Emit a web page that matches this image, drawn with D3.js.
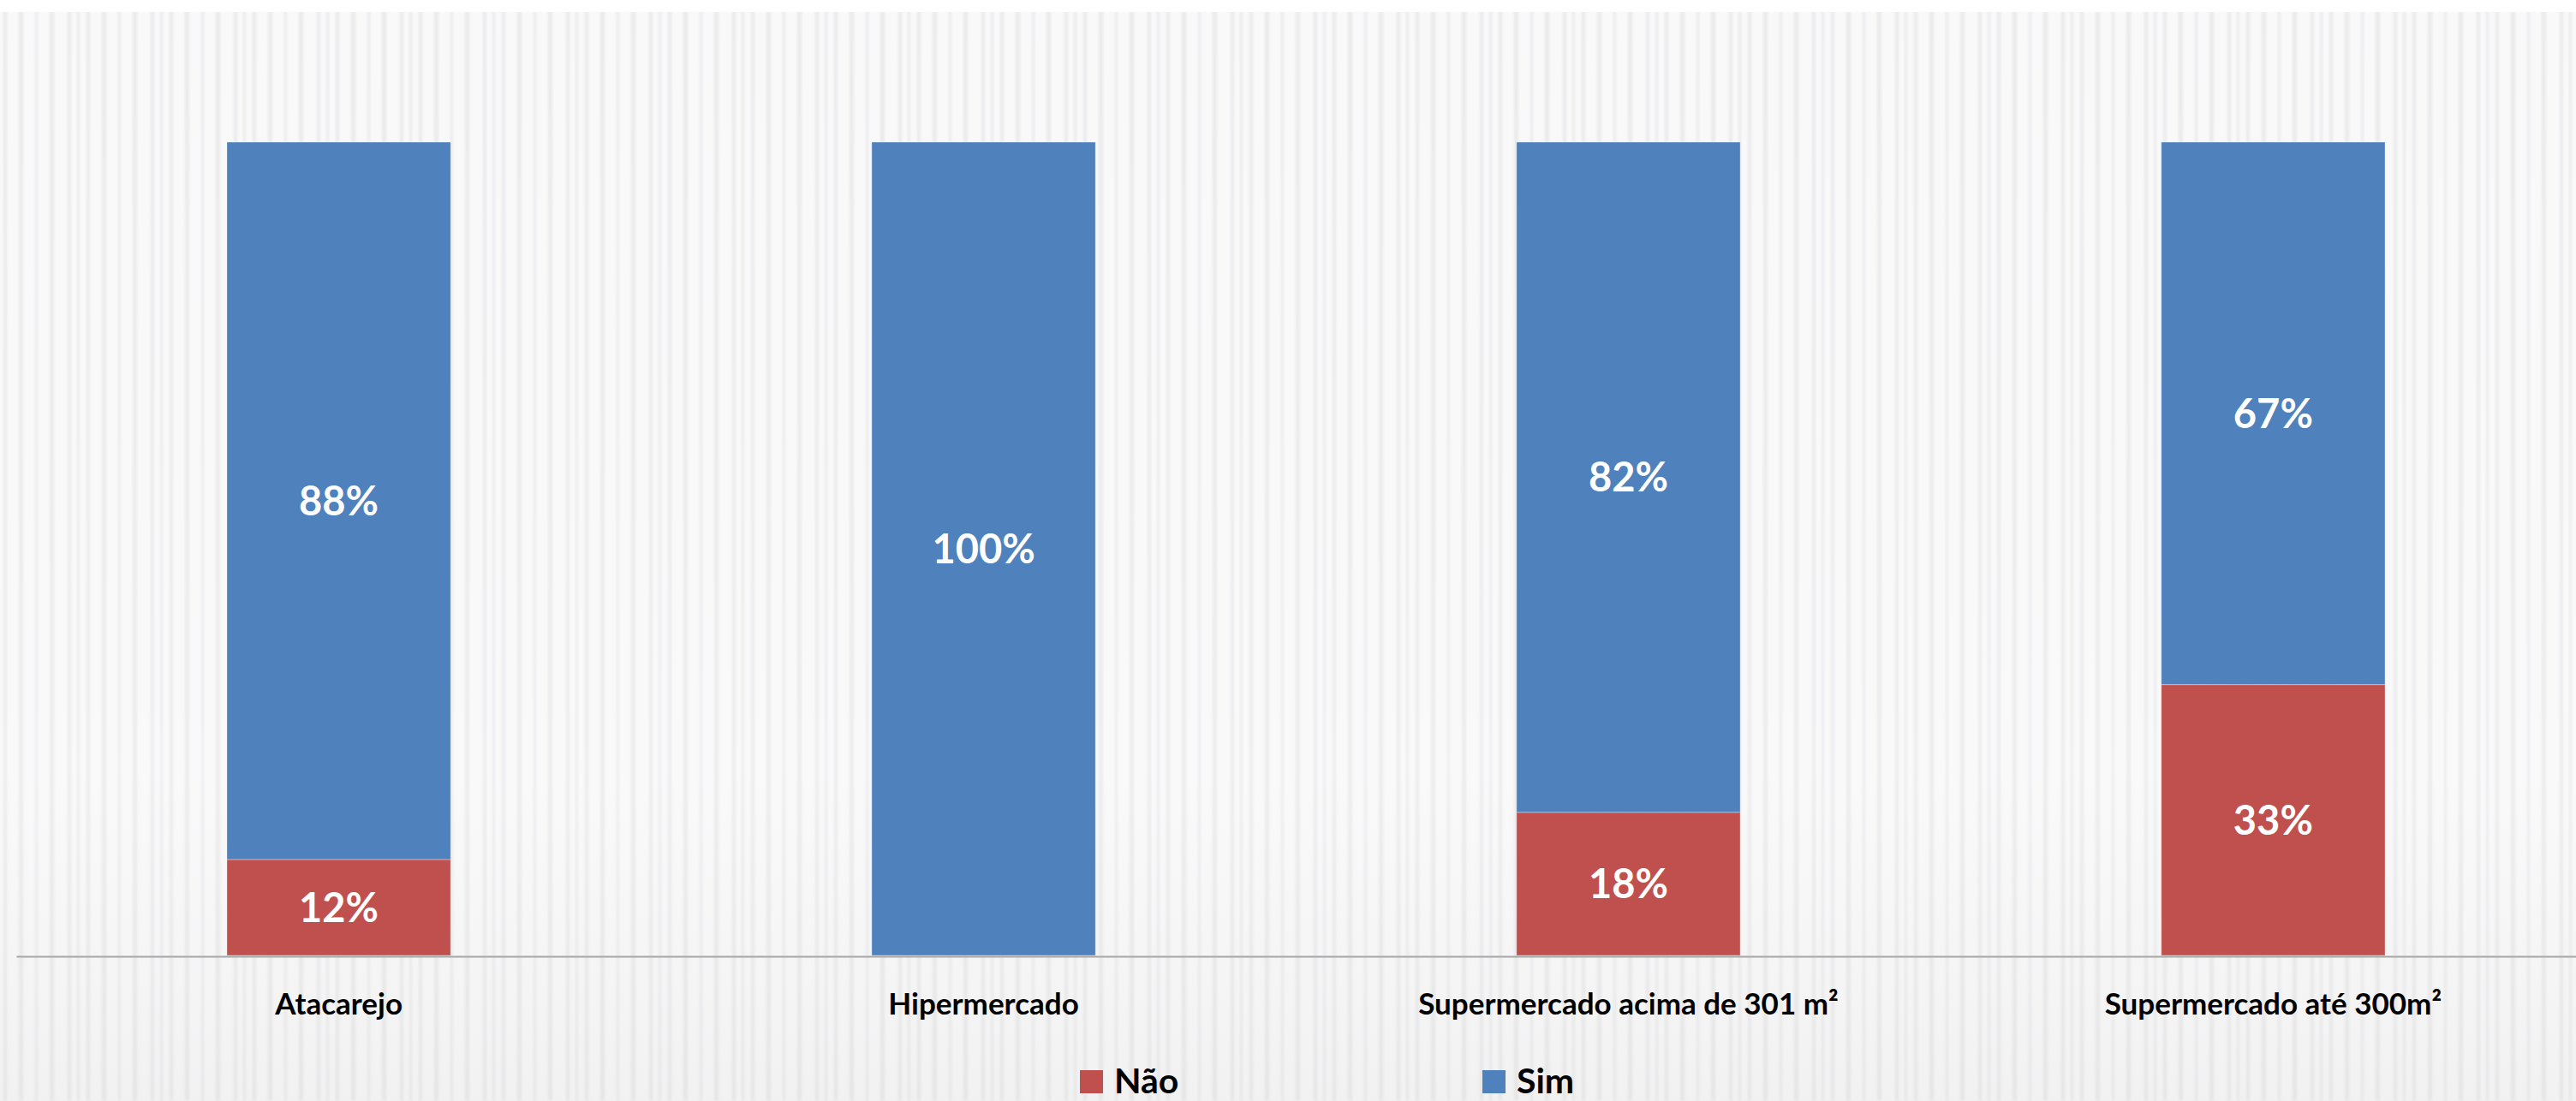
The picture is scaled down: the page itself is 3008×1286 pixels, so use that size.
<!DOCTYPE html>
<html>
<head>
<meta charset="utf-8">
<script src="https://cdn.jsdelivr.net/npm/d3@7"></script>
<style>
  body { margin: 0; background: #fff; }
  svg { display: block; font-family: Lato, "Open Sans", sans-serif; }
</style>
</head>
<body>
<svg id="chart"></svg>
<script>
// categories and shares
var categories = ["Atacarejo", "Hipermercado", "Supermercado acima de 301 m²", "Supermercado até 300m²"];
var naoValues = [0.118, 0, 0.176, 0.333];
var simValues = [0.882, 1, 0.824, 0.667];
var seriesNames = ["Não", "Sim"];
var seriesColors = ["#C0504D", "#4F81BD"];

var width = 3008, height = 1286;
var margin = { top: 166, bottom: 170, left: 19, right: -23 };

var svg = d3.select("#chart")
    .attr("width", width)
    .attr("height", height);

// striped background
var defs = svg.append("defs");
var blur = defs.append("filter").attr("id", "soft")
    .attr("x", "-50%").attr("width", "200%");
blur.append("feGaussianBlur").attr("stdDeviation", 1.8);

var pat = defs.append("pattern")
    .attr("id", "stripes")
    .attr("patternUnits", "userSpaceOnUse")
    .attr("width", 97).attr("height", 1286);
pat.append("rect").attr("width", 97).attr("height", 1286).attr("fill", "#f8f8f9");
var stripeX = [4, 22, 41, 58, 79, 90];
var stripeW = [4, 5, 3, 5, 4, 3];
pat.selectAll("rect.s")
    .data(stripeX)
    .join("rect")
    .attr("class", "s")
    .attr("x", d => d)
    .attr("width", (d, i) => stripeW[i])
    .attr("height", 1286)
    .attr("fill", "#e8e8ea")
    .attr("filter", "url(#soft)");

svg.append("rect")
    .attr("y", 14)
    .attr("width", width)
    .attr("height", height - 14)
    .attr("fill", "url(#stripes)");

var shade = defs.append("linearGradient").attr("id", "shade")
    .attr("x1", 0).attr("x2", 0).attr("y1", 0).attr("y2", 1);
shade.append("stop").attr("offset", "0%").attr("stop-color", "#fff").attr("stop-opacity", 0.1);
shade.append("stop").attr("offset", "70%").attr("stop-color", "#fff").attr("stop-opacity", 0.2);
shade.append("stop").attr("offset", "100%").attr("stop-color", "#ddd").attr("stop-opacity", 0.25);
svg.append("rect")
    .attr("y", 14)
    .attr("width", width)
    .attr("height", height - 14)
    .attr("fill", "url(#shade)");

var x = d3.scaleBand()
    .domain(categories)
    .range([margin.left, width - margin.right])
    .paddingInner(0.653)
    .paddingOuter(0.3267);

var y = d3.scaleLinear()
    .domain([0, 1])
    .range([height - margin.bottom, margin.top]);

var data = categories.map((c, i) => ({ category: c, "Não": naoValues[i], "Sim": simValues[i] }));
var stacked = d3.stack().keys(seriesNames)(data);

var fmt = d3.format(".0%");

var groups = svg.append("g")
    .selectAll("g")
    .data(stacked)
    .join("g")
    .attr("fill", (d, i) => seriesColors[i]);

groups.selectAll("rect")
    .data(d => d.filter(p => p[1] - p[0] > 0))
    .join("rect")
    .attr("x", d => x(d.data.category))
    .attr("y", d => y(d[1]))
    .attr("height", d => y(d[0]) - y(d[1]))
    .attr("width", x.bandwidth())
    .attr("stroke", "#ffffff")
    .attr("stroke-opacity", 0.35)
    .attr("stroke-width", 1);

groups.selectAll("text")
    .data(d => d.filter(p => p[1] - p[0] > 0))
    .join("text")
    .attr("x", d => x(d.data.category) + x.bandwidth() / 2)
    .attr("y", d => (y(d[0]) + y(d[1])) / 2)
    .attr("dy", "0.36em")
    .attr("text-anchor", "middle")
    .attr("fill", "#fff")
    .style("font-weight", "bold")
    .style("font-size", "47px")
    .text(d => fmt(d[1] - d[0]));

// x axis
var xAxis = svg.append("g")
    .attr("transform", `translate(0,${height - margin.bottom + 1})`)
    .call(d3.axisBottom(x).tickSize(0).tickSizeOuter(0).tickPadding(43));
xAxis.select(".domain")
    .attr("stroke", "#a6a6a6")
    .attr("stroke-width", 2);
xAxis.selectAll("text")
    .attr("fill", "#000")
    .style("font-family", "Lato, 'Open Sans', sans-serif")
    .style("font-weight", "bold")
    .style("font-size", "35px");

// legend
var legendX = [1261, 1731];
var legend = svg.append("g")
    .selectAll("g")
    .data(seriesNames)
    .join("g")
    .attr("transform", (d, i) => `translate(${legendX[i]},1250)`);
legend.append("rect")
    .attr("width", 27)
    .attr("height", 27)
    .attr("fill", (d, i) => seriesColors[i]);
legend.append("text")
    .attr("x", 40)
    .attr("y", 27)
    .attr("fill", "#000")
    .style("font-weight", "bold")
    .style("font-size", "41px")
    .text(d => d);
</script>
</body>
</html>
